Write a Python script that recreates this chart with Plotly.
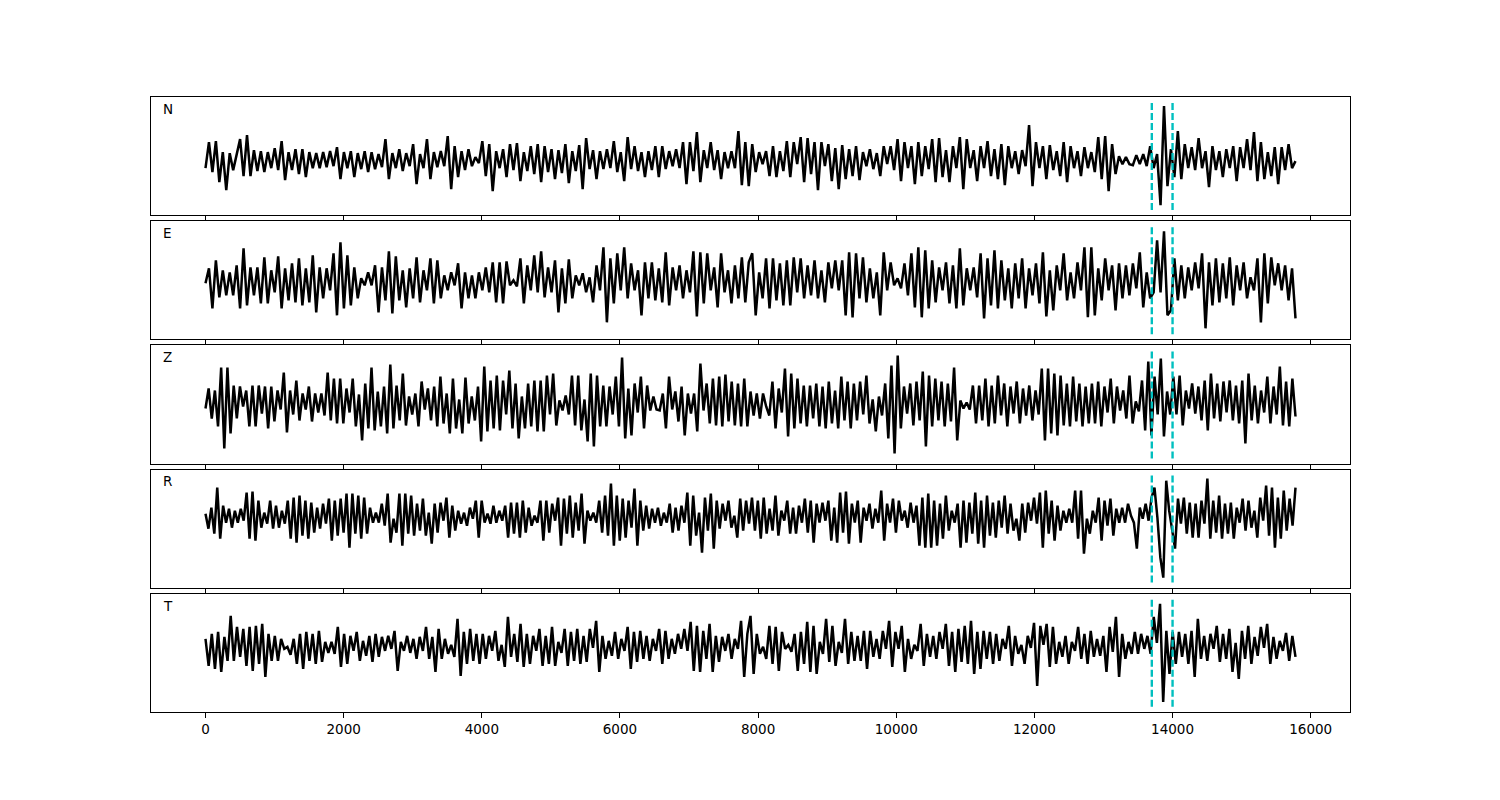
import numpy as np
import plotly.graph_objects as go

# ---------------- data (amplitudes) ----------------
duration = 15780
pick_times = [13700, 14000]
components = ["N", "E", "Z", "R", "T"]
xticks = list(range(0, 16001, 2000))

trace_N = [
    -12, 14, -16, 15, -26, 4, -34, 3, -14, 2,
    17, -20, 21, -20, 6, -15, 5, -16, 4, -12,
    8, -14, 15, -24, 4, -14, 7, -18, 7, -21,
    4, -12, 3, -12, 4, -11, 5, -10, 9, -23,
    4, -12, 5, -21, 3, -13, 5, -16, 4, -13,
    2, -11, 17, -23, 3, -12, 7, -15, 3, -10,
    12, -28, 2, -12, 17, -23, 4, -11, 5, -10,
    20, -33, 10, -21, 5, -14, 7, -10, -1, -7,
    15, -20, 12, -35, 5, -12, 7, -21, 12, -14,
    13, -25, 4, -15, 10, -18, 12, -26, 10, -16,
    7, -23, 6, -17, 12, -27, 5, -15, 11, -33,
    18, -13, 6, -23, 5, -13, 7, -12, 15, -16,
    4, -25, 19, -13, 10, -15, 4, -21, 5, -14,
    10, -21, 10, -13, 5, -10, 7, -12, 14, -28,
    14, -15, 24, -26, 6, -12, 14, -14, 6, -23,
    4, -12, 5, -12, 25, -29, 14, -30,
    12, -16, 4, -8, 5, -20, 10, -21, 5, -15, 15, -21,
    14, -8, 19, -26, 18, -18, 14, -34, 14, -10,
    12, -25, 8, -33, 11, -23, 7, -20, 10, -24,
    4, -10, 7, -13, 3, -20, 10, -8,
    10, -14, 17, -25, 14, -12, 10, -28, 14, -20,
    10, -13, 17, -26, 18, -21, 6, -26, 10, -12,
    19, -33, 17, -12, 6, -25, 10, -12, 15, -20,
    7, -23, 12, -29, 10, -12, 5, -18, 6, -10,
    31, -30, 14, -12, 10, -23, 11, -14, 5, -20,
    14, -26, 10, -12, 5, -20, 9, -12, 4, -16,
    19, -23, 20, -35, 12, -18, 0, -8, -1, -8,
    -9, 1, -8, 2, -10, 10, -12, 2,
    -49, 50, -30,
    7, -21, 25, -23, 12, -12, 9, -14, 18, -12,
    5, -31, 10, -14, 5, -21, 7, -12, 10, -25,
    9, -12, 17, -14, 24, -25, 14, -23, 4, -20,
    9, -28, 9, -14, 12, -12, -5,
]

trace_E = [
    -3, 12, -28, 20, -17, 10, -15, 8, -15, 15,
    -28, 32, -25, 13, -15, 13, -23, 23, -23, 10,
    -12, 24, -28, 12, -20, 17, -22, 22, -25, 12,
    -22, 25, -32, 13, -18, 12, -10, 27, -35, 38,
    -28, 25, -25, 13, -18, 2, -5, 8, -5, 15,
    -32, 13, -20, 29, -33, 24, -20, 10, -27, 12,
    -18, 23, -22, 10, -10, 22, -23, 20, -18, 5,
    -10, 8, -5, 17, -28, 8, -18, 5, -18, 8,
    -10, 13, -12, 18, -22, 18, -23, 19, -5, 0,
    -6, 22, -23, 15, -10, 25, -12, 29, -17, 13,
    -12, 20, -32, 12, -23, 21, -18, 5, -5, 7,
    -12, 3, -22, 15, -10, 33, -42, 22, -23, 27,
    -10, 33, -18, 17, -10, 10, -35, 18, -18, 18,
    -20, 12, -22, 28, -25, 13, -10, 15, -18, 10,
    -12, 29, -36, 28, -23, 27, -10, 13, -27, 27,
    -12, 10, -23, 15, -18, 23, -22, 18,
    27, -35, 8, -18, 22, -28, 22, -20, 17, -25, 20, -25,
    23, -12, 22, -18, 15, -15, 20, -18, 10, -22,
    18, -8, 20, -10, 20, -35, 28, -37, 27, -18,
    23, -22, 12, -18, 8, -35, 28, -10, 18, -5,
    2, -8, 17, -15, 27, -27, 33, -37, 30, -28,
    20, -22, 13, -10, 18, -23, 15, -28, 32, -25,
    12, -10, 13, -17, 27, -38, 22, -25, 30, -28,
    20, -20, 12, -28, 17, -18, 22, -28, 12, -15,
    17, -23, 28, -36, 10, -30, 15, -10, 27, -20,
    8, -18, 18, -10, 33, -37, 33, -35, 12, -20,
    22, -10, 15, -30, 17, -18, 15, -15, 17, -8,
    28, -27, 8, -18, -12, 40,
    -12, 49, -35,
    -30, 22, -20, 15, -18, 13, -10, 18, -8, 27,
    -48, 18, -25, 22, -22, 17, -18, 23, -25, 15,
    -10, 18, -18, 3, -10, 22, -42, 27, -23, 23,
    -5, 17, -10, 15, -20, 12, -38,
]

trace_Z = [
    -4, 16, -14, 14, -22, 37, -44, 37, -29, 19,
    -14, 18, -2, 14, -22, 19, -22, 19, -9, 18,
    -24, 18, -17, 14, -5, 32, -28, 14, -10, 24,
    -16, 11, -5, 18, -17, 11, -8, 11, -11, 32,
    -16, 26, -19, 26, -19, 16, -8, 26, -22, 10,
    -36, 21, -24, 37, -26, 13, -22, 18, -29, 40,
    -24, 19, -16, 31, -21, 8, -10, 11, -22, 23,
    -5, 16, -16, 18, -22, 28, -19, 11, -29, 26,
    -24, 5, -29, 27, -19, 8, -16, 18, -37, 38,
    -27, 24, -24, 29, -26, 24, -10, 34, -24, 21,
    -34, 8, -24, 21, -22, 24, -27, 24, -27, 29,
    -10, 31, -21, 4, -6, 9, -10, 29, -21, 29,
    -26, 5, -37, 31, -42, 29, -22, 19, -22, 18,
    -10, 28, -22, 47, -34, 16, -31, 21, -8, 28,
    -24, 19, -6, 8, -5, -6, 11, -24, 28,
    -5, 13, -17, 18, -31, 11, -9, 11, -27, 41, -6, 21,
    -19, 26, -21, 28, -22, 30, -17, 23, -21, 21, -22,
    26, -22, 13, -11, 11, -14, 11, -2,
    -11, 23, -24, 16, -8, 36, -32, 31, -24, 26,
    -19, 19, -22, 19, -14, 21, -22, 18, -24, 23,
    -19, 14, -24, 28, -16, 23, -24, 21, -16, 23,
    -10, 29, -19, 5, -27, 8, -11, 21, -34, 39,
    -49, 49, -24, 18, -9, 21, -21, 23, -16, 33,
    -42, 29, -22, 26, -16, 23, -22, 21, -17, 37,
    -36, 4, -4, 2, -5, 19, -19, 19, -16, 26,
    -22, 19, -19, 29, -11, 21, -22, 18, -9, 23,
    -19, 16, -11, 19, -16, 14, -10, 36, -36, 36,
    -29, 31, -31, 29, -21, 21, -22, 28, -17, 21,
    -22, 18, -19, 21, -19, 23, -22, 18, -8, 26,
    -19, 18, -6, 14, -14, 29, -19, 3, -7, 24,
    -26, 43, -31, 28, -10, 46, -32, 13, -10, 28,
    -10, 29, -21, 14, -4, 21, -9, 18, -16,
    24, -26, 31, -14, 21, -17, 23, -8, 24, -16,
    19, -19, 24, -39, 31, -16, 19, -19,
    14, -8, 28, -19, 18, -10, 38, -21, 23, -22,
    26, -12,
]

trace_R = [
    15, 0, 21, -5, 41, -10, 23, 6, 20, 1,
    18, 6, 20, 8, 36, -10, 37, -12,
    28, 1, 16, 5, 28, 0, 23, 1, 18, 5,
    28, -10, 31, -14, 33, -7, 28, -10, 26, -4,
    21, 0, 25, 5, 30, -12, 28, -7, 30, -4,
    35, -19, 35, -5, 33, -10, 31, -5, 21, 6,
    16, 6, 25, 3, 35, -14, 10, -4, 35, -17,
    35, -5, 33, -7, 25, -2, 30, -7, 16, -15,
    25, -4, 26, 8, 31, -9, 23, -2, 18, 5,
    16, 3, 21, 10, 28, -9, 28, 6, 15, 5,
    23, 6, 18, 8, 23, -9, 26, -5, 26, -9,
    28, -4, 21, 3, 13, 6, 28, -12, 28, -4,
    25, 8, 31, -17, 30, -5, 33, -9, 26, -2,
    35, -15, 18, 8, 16, 6, 28, -4, 33, -7,
    45, -17, 33, -12, 30, -9, 28, 1, 40, -17,
    28, -2, 23, 0, 20, 6, 21, 3, 16, 6,
    25, -4, 21, -2, 23, 6, 36, -17, 33, -7,
    16, -24, 31, -2, 35, -20, 28, 0, 25, 8,
    28, 1, 13, -9, 30, -2, 28, 5,
    31, -2, 28, -10, 31, -5, 20, -2, 33, -7,
    18, 8, 28, -5, 21, -5, 23, 6, 30, -4,
    28, -14, 25, 6, 26, 8, 28, -12, 21, -14,
    36, -4, 37, -15, 25, 6, 28, -14, 21, 8,
    25, 0, 20, 6, 38, -12, 25, 6, 30, -4,
    28, 8, 18, 1, 26, 6, 23, -17, 31, -19,
    35, -19, 28, -17, 25, -10, 33, -2, 18, 6,
    25, -19, 28, -14, 26, -5, 36, -15, 28, -19,
    33, -7, 26, -9, 28, 1, 33, -5, 25, -2,
    10, -12, 25, -4, 26, 8, 31, 5, 36, -19,
    38, -5, 28, -12, 23, -2, 18, 6, 20, 6,
    38, -10, 38, -25, 10, -5, 18, 6, 31, -12,
    28, 3, 30, -7, 20, 6, 21, 6, 25, 13,
    6, -20, 21, 10, 25, 8, 31, 41, 11, -29,
    -49, 48, 18, 1, -20, 30, 5, 31, -5, 26,
    -9, 25, -9, 28, 5, 50, -10, 28, -4, 33,
    -10, 25, -5, 26, -10, 21, 6, 30, -2, 28,
    1, 18, -9, 31, 8, 43, -7, 41, -19, 31,
    -10, 38, -2, 30, 3, 41,
]

trace_T = [
    14, -13, 19, -16, 21, -19, 16, -8, 37, -8,
    26, -4, 24, -13, 26, -18, 27, -11, 29, -24,
    19, -8, 17, -8, 14, 4, 6, -2,
    14, -11, 19, -16, 21, -8, 19, -11, 22, -9,
    11, 0, 11, -1, 26, -14, 19, -11,
    17, 2, 21, -8, 12, -3, 17, -9, 19, -4,
    16, 2, 17, 4, 22, -18, 11, 2, 17, 0,
    14, -6, 16, 2, 26, -6, 16, -19, 24, -6,
    14, -1, 8, -4, 34, -23, 21, -11, 24, -8,
    19, -11, 19, -6, 17, 2, 22, -8, 8, -14,
    36, -4, 19, -9, 29, -14, 19, -11, 17, 2,
    24, -13, 17, -11, 26, -13, 11, 0, 24, -13,
    21, -8, 24, -11, 17, -9, 24, 5, 32, -19,
    17, -6, 12, -3, 21, -6, 14, 2, 26, -16,
    21, -9, 22, -6, 17, -8, 14, 2, 24, -11,
    22, -6, 14, -1, 19, 4, 24, 2, 31, -18,
    27, -19, 22, -6, 29, -19, 17, -9, 16, 2,
    19, -6, 14, 4, 32, -24, 19,
    37, -21, 19, -1, 6, -6, 27, -11, 26, -18,
    21, 4, 8, 1, 19, -18, 21, -11, 31, -19,
    27, -21, 11, -1, 34, -9, 27, -13, 11, 0,
    34, -11, 21, -8, 17, -8, 22, -16, 22, -4,
    14, -6, 22, 4, 32, -14, 21, 4, 27, -19,
    14, -6, 8, 2, 29, -13, 19, -4, 17, -6,
    21, 4, 29, -13, 21, -19, 24, -9, 27, -11,
    32, -21, 21, -16, 22, -6, 21, -11, 19, -8,
    14, 4, 27, -13, 17, -1, 8, -11, 17, 5,
    30, -33, 27, 8, 29, -14, 26, -11, 11, -4,
    17, -11, 11, 2, 26, -6, 19, -11, 22, -4,
    14, -3, 17, -19, 26, 1, 36, -24, 19, -6,
    11, -1, 21, -1, 19, 4, 17, -1, 36, 10,
    49, -49, 22, -21, 21, -11, 21, -4, 19, -11,
    22, -24, 34, -6, 17, -8, 19, 4, 27, -9,
    19, -6, 24, -19, 10, -26, 22, -6, 27, -11,
    16, -3, 26, 5, 29, -11, 16, -6, 12, 2, 20, -8, 17, -4,
]

traces = [trace_N, trace_E, trace_Z, trace_R, trace_T]

# ---------------- figure ----------------
W, H = 1500, 800
# the page body adds a small offset; margins compensate for it
ML, MR, MT, MB = 143, 158, 89, 96
plot_h = H - MT - MB
n_rows = 5
hspace = 0.05
row_h = plot_h / (n_rows + (n_rows - 1) * hspace)
gap = row_h * hspace

x_range = [-0.05 * duration, 1.05 * duration]
y_half = row_h / 2.0
dash_half = y_half - 5.2

font_family = "DejaVu Sans, Liberation Sans, Arial, sans-serif"

fig = go.Figure()
layout_axes = {}
annotations = []

for k, (name, vals) in enumerate(zip(components, traces)):
    suffix = "" if k == 0 else str(k + 1)
    t = np.linspace(0, duration, len(vals))
    fig.add_trace(go.Scatter(
        x=t, y=vals, mode="lines",
        line=dict(color="black", width=2.5),
        xaxis="x" + suffix, yaxis="y" + suffix,
        hoverinfo="skip", showlegend=False,
    ))
    for p in pick_times:
        fig.add_trace(go.Scatter(
            x=[p, p], y=[-dash_half, dash_half], mode="lines",
            line=dict(color="#00BFBF", width=2.4, dash="7px,3px"),
            xaxis="x" + suffix, yaxis="y" + suffix,
            hoverinfo="skip", showlegend=False,
        ))

    top = 1 - k * (row_h + gap) / plot_h
    bottom = top - row_h / plot_h
    xa = dict(
        domain=[0, 1], anchor="y" + suffix, range=x_range,
        tickmode="array", tickvals=xticks,
        ticktext=[str(v) for v in xticks],
        ticks="outside", ticklen=5, tickwidth=1, tickcolor="black",
        showticklabels=(k == n_rows - 1),
        showline=True, mirror=True, linecolor="black", linewidth=1,
        showgrid=False, zeroline=False,
        tickfont=dict(family=font_family, size=13.5, color="black"),
    )
    if k > 0:
        xa["matches"] = "x"
    ya = dict(
        domain=[bottom, top], anchor="x" + suffix,
        range=[-y_half, y_half],
        showticklabels=False, ticks="",
        showline=True, mirror=True, linecolor="black", linewidth=1,
        showgrid=False, zeroline=False,
    )
    layout_axes["xaxis" + suffix] = xa
    layout_axes["yaxis" + suffix] = ya

    annotations.append(dict(
        text=name, showarrow=False,
        xref="x" + suffix + " domain", yref="y" + suffix + " domain",
        x=0.0085, y=0.9, xanchor="left", yanchor="middle",
        font=dict(family=font_family, size=13.5, color="black"),
    ))

fig.update_layout(
    width=W, height=H,
    margin=dict(l=ML, r=MR, t=MT, b=MB),
    paper_bgcolor="white", plot_bgcolor="white",
    showlegend=False,
    annotations=annotations,
    **layout_axes,
)

fig.write_html("out.html")
